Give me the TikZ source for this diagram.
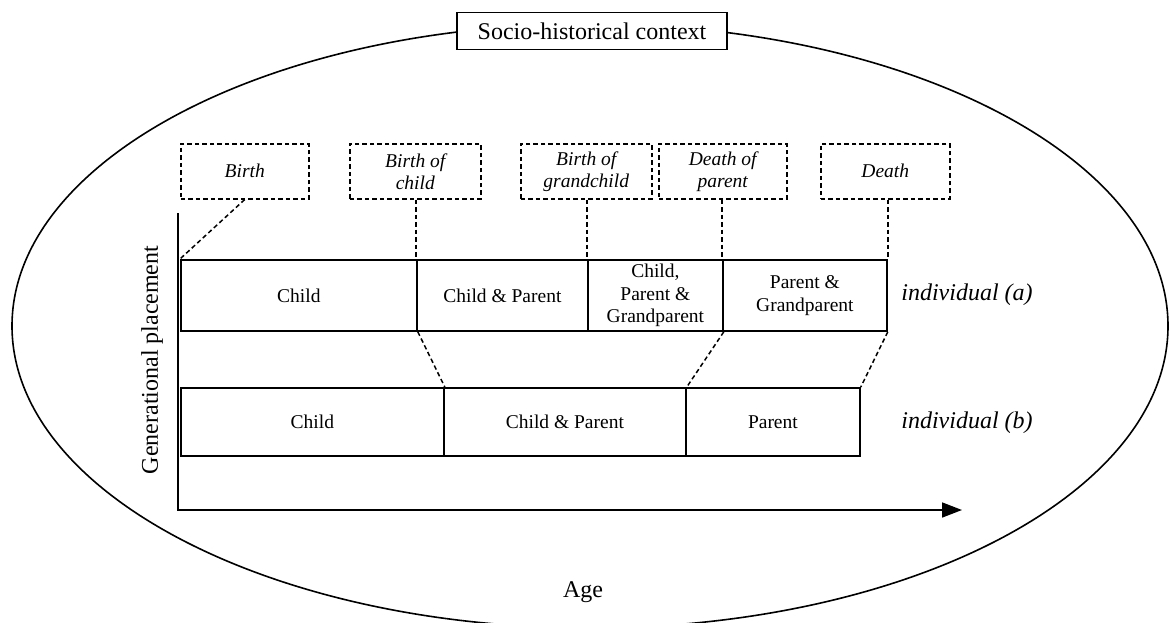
\documentclass[tikz,border=0pt]{standalone}
\usepackage{fontspec}
\setmainfont{Liberation Serif}
\usetikzlibrary{arrows.meta}
\newcommand\cellfnt{\fontsize{19.5}{22.5}\selectfont}
\newcommand\evfnt{\fontsize{19.5}{22}\selectfont\itshape}
\newcommand\bigfnt{\fontsize{24}{28}\selectfont}
\begin{document}
\begin{tikzpicture}[x=1pt,y=-1pt,
  cell/.style={draw, line width=1.8pt, inner sep=0pt, anchor=north west, align=center, font=\cellfnt},
  event/.style={draw, dash pattern=on 4.5pt off 3pt, line width=1.5pt, inner sep=0pt, anchor=north west, minimum height=55pt, align=center, font=\evfnt},
  conn/.style={dash pattern=on 4.5pt off 3pt, line width=1.5pt},
  titlebox/.style={draw, fill=white, line width=1.6pt, minimum width=270pt, minimum height=37pt, inner sep=0pt, font=\bigfnt},
  lbl/.style={inner sep=0pt, font=\bigfnt}
]
\useasboundingbox (0,0) rectangle (1169,623);
\begin{scope}
  \clip (0,0) rectangle (1169,623);
  \draw[line width=1.6pt] (590,326) ellipse [x radius=578pt, y radius=302pt];
\end{scope}
\node[titlebox] (ctx) at (592,31) {Socio-historical context};

% events
\node[event, minimum width=128pt] (birth) at (180,143) {Birth};
\node[event, minimum width=131pt] (boc) at (349,143) {Birth of\\child};
\node[event, minimum width=131pt] (bog) at (520,143) {Birth of\\grandchild};
\node[event, minimum width=128pt] (dop) at (658,143) {Death of\\parent};
\node[event, minimum width=129pt] (death) at (820,143) {Death};

% row a
\node[cell, minimum width=236pt, minimum height=71pt] (a1) at (180,259) {Child};
\node[cell, minimum width=171pt, minimum height=71pt] (a2) at (416,259) {Child \& Parent};
\node[cell, minimum width=135pt, minimum height=71pt] (a3) at (587,259) {Child,\\Parent \&\\Grandparent};
\node[cell, minimum width=164pt, minimum height=71pt] (a4) at (722,259) {Parent \&\\Grandparent};

% row b
\node[cell, minimum width=263pt, minimum height=68pt] (b1) at (180,387) {Child};
\node[cell, minimum width=242pt, minimum height=68pt] (b2) at (443,387) {Child \& Parent};
\node[cell, minimum width=174pt, minimum height=68pt] (b3) at (685,387) {Parent};

% connectors
\draw[conn] (birth.south) -- (a1.north west);
\draw[conn] (a2.north west |- boc.south) -- (a2.north west);
\draw[conn] (a3.north west |- bog.south) -- (a3.north west);
\draw[conn] (a4.north west |- dop.south) -- (a4.north west);
\draw[conn] (a4.north east |- death.south) -- (a4.north east);
\draw[conn] (a1.south east) -- (b1.north east);
\draw[conn] (a3.south east) -- (b2.north east);
\draw[conn] (a4.south east) -- (b3.north east);

% axes
\coordinate (ytop) at (178,213);
\coordinate (orig) at (178,510);
\coordinate (xtip) at (962,510);
\draw[line width=1.7pt, -{Triangle[length=20pt,width=15pt]}] (ytop) -- (orig) -- (xtip);

% labels
\node[lbl, font=\bigfnt\itshape] (ia) at (967,295) {individual (a)};
\node[lbl, font=\bigfnt\itshape] (ib) at (967,423) {individual (b)};
\node[lbl, rotate=90] (gp) at (152,360) {Generational placement};
\node[lbl] (age) at (583,592) {Age};
\end{tikzpicture}
\end{document}
